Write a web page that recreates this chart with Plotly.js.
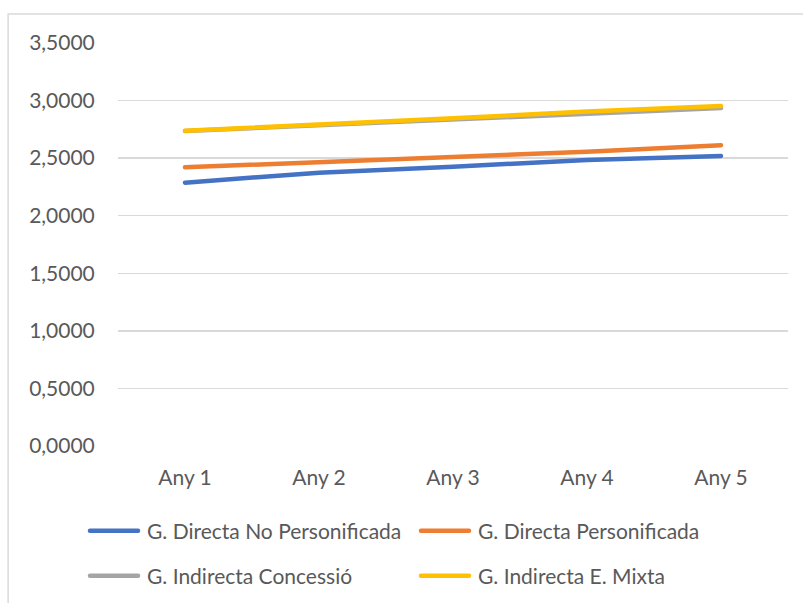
<!DOCTYPE html>
<html>
<head>
<meta charset="utf-8">
<script src="https://cdn.plot.ly/plotly-3.0.1.min.js"></script>
<style>
html,body{margin:0;padding:0;background:#fff;}
#chart{width:803px;height:603px;}
</style>
</head>
<body>
<div id="chart"></div>
<script>
const categories = ["Any 1", "Any 2", "Any 3", "Any 4", "Any 5"];
const seriesNames = ["G. Directa No Personificada", "G. Directa Personificada", "G. Indirecta Concessió", "G. Indirecta E. Mixta"];
const directaNoPers = [2.287, 2.374, 2.426, 2.484, 2.519];
const directaPers = [2.420, 2.464, 2.507, 2.556, 2.612];
const indirectaConc = [2.735, 2.785, 2.832, 2.884, 2.935];
const indirectaMixta = [2.738, 2.790, 2.846, 2.905, 2.953];
const colors = ["#4472C4", "#ED7D31", "#A5A5A5", "#FFC000"];
const yTicks = [0, 0.5, 1, 1.5, 2, 2.5, 3, 3.5];

const values = [directaNoPers, directaPers, indirectaConc, indirectaMixta];
const legendIds = ["legend", "legend", "legend2", "legend2"];
const traces = values.map((v, i) => ({
  type: "scatter",
  mode: "lines",
  x: categories,
  y: v,
  name: seriesNames[i],
  legend: legendIds[i],
  line: {color: colors[i], width: 4.5},
  hoverinfo: "skip"
}));

const font = {family: "Lato, sans-serif", size: 21, color: "#595959"};
const legendBase = {
  orientation: "h",
  xref: "container",
  x: 85 / 803, xanchor: "left",
  yref: "container",
  yanchor: "middle",
  font: font,
  entrywidth: 264,
  entrywidthmode: "pixels",
  bgcolor: "rgba(0,0,0,0)",
  itemwidth: 52
};

const layout = {
  width: 803, height: 603,
  margin: {l: 118, r: 15, t: 43, b: 157},
  paper_bgcolor: "#fff",
  plot_bgcolor: "#fff",
  font: font,
  separators: ",.",
  showlegend: true,
  xaxis: {
    type: "category",
    range: [-0.5, 4.5],
    showgrid: false,
    zeroline: false,
    showline: false,
    ticks: "outside",
    ticklen: 13,
    tickcolor: "rgba(0,0,0,0)",
    tickfont: font
  },
  yaxis: {
    range: [0, 3.5],
    tickvals: yTicks,
    tickformat: ".4f",
    gridcolor: "#D9D9D9",
    gridwidth: 1.5,
    zeroline: false,
    showline: false,
    ticks: "outside",
    ticklen: 18,
    tickcolor: "rgba(0,0,0,0)",
    tickfont: font
  },
  legend: Object.assign({}, legendBase, {y: 1 - 531 / 603}),
  legend2: Object.assign({}, legendBase, {y: 1 - 576 / 603}),
  shapes: [{
    type: "rect", xref: "paper", yref: "paper",
    x0: -0.164, x1: 1.2, y0: -0.6, y1: 1.072,
    line: {color: "#D9D9D9", width: 1.5},
    fillcolor: "rgba(0,0,0,0)",
    layer: "below"
  }]
};

Plotly.newPlot("chart", traces, layout, {displayModeBar: false, staticPlot: true}).then(function (gd) {
  gd.querySelectorAll(".scatterlayer .js-line").forEach(function (p) {
    p.style.strokeLinecap = "round";
    p.style.strokeLinejoin = "round";
  });
  gd.querySelectorAll(".legendlines path").forEach(function (p) {
    p.setAttribute("d", "M5,0h48");
    p.style.strokeLinecap = "round";
  });
});
</script>
</body>
</html>
